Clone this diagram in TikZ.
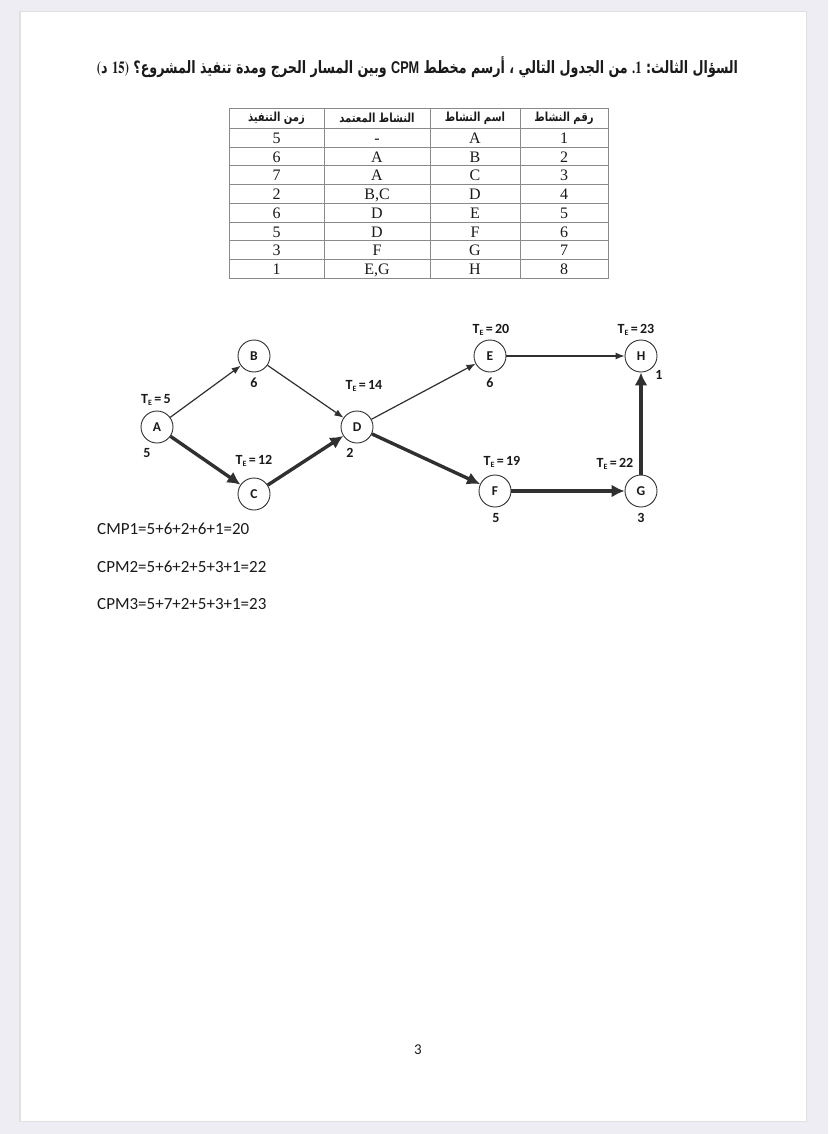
\documentclass[tikz,border=0pt]{standalone}
\usepackage{fontspec}
\usepackage{graphicx}
\usetikzlibrary{arrows.meta}
\setmainfont{Liberation Serif}
\newfontfamily\arabicfont[Script=Arabic]{DejaVu Sans}
\newfontfamily\calib{Carlito}
\newfontfamily\arialf{Liberation Sans}
\TeXXeTstate=1
\definecolor{bgc}{HTML}{EEEDF3}
\definecolor{linec}{HTML}{303030}
\definecolor{txt}{HTML}{1A1A1A}
\definecolor{gridc}{HTML}{8A8A8A}
\newcommand{\TE}{T\raisebox{-1.8pt}{\fontsize{8}{8}\selectfont E}}
\newcommand{\tfb}{\usefont{OT1}{ptm}{b}{n}}
\newcommand{\hd}[1]{\scalebox{0.8}[1]{\arabicfont\bfseries\fontsize{12.5}{13}\selectfont\beginR #1\endR}}
\tikzset{
  act/.style={circle, draw=linec, line width=0.9pt, minimum size=32pt, inner sep=0pt, fill=white, text=txt, font=\calib\bfseries\fontsize{13.5}{13.5}\selectfont},
  lbl/.style={inner sep=0pt, text=txt, font=\calib\bfseries\fontsize{14}{14}\selectfont},
  thinarr/.style={draw=linec, line width=1.2pt, -{Latex[length=9pt,width=7pt]}},
  critarr/.style={draw=linec, line width=3.4pt, -{Latex[length=13pt,width=13pt]}},
  cell/.style={anchor=base, inner sep=0pt, text=txt, font=\fontsize{16}{16}\selectfont},
  head/.style={inner sep=0pt, text=txt},
  calc/.style={anchor=west, inner sep=0pt, text=txt, font=\calib\fontsize{17}{17}\selectfont},
}
\begin{document}
\begin{tikzpicture}[x=1pt,y=-1pt]
% page
\fill[bgc] (0,0) rectangle (828,1134);
\useasboundingbox (0,0) rectangle (828,1134);
\fill[black!12] (19,11) rectangle (807,1122);
\fill[white] (21,12.5) rectangle (806,1120.5);

% title (pieces laid out in visual order, left to right)
\node[inner sep=0pt, text=txt] (title) at (417.5,67) {\resizebox{641pt}{\height}{\arabicfont\bfseries\fontsize{17}{19}\selectfont {\tfb(}د {\tfb 15)} \beginR وبين المسار الحرج ومدة تنفيذ المشروع؟\endR{} {\arialf\bfseries CPM} \beginR من الجدول التالي ، أرسم مخطط\endR{} {\tfb .1} \beginR السؤال الثالث:\endR}};

% table grid
\draw[gridc, line width=1pt] (229,108.3) rectangle (608,278.3);
\foreach \x in {324,430,520} \draw[gridc, line width=1pt] (\x,108.3) -- (\x,278.3);
\foreach \y in {128.3,147.05,165.8,184.55,203.3,222.05,240.8,259.55} \draw[gridc, line width=1pt] (229,\y) -- (608,\y);

% headers
\node[head] (h1) at (564,118.3) {\hd{رقم النشاط}};
\node[head] (h2) at (475,118.3) {\hd{اسم النشاط}};
\node[head] (h3) at (377,118.3) {\hd{النشاط المعتمد}};
\node[head] (h4) at (276.5,118.3) {\hd{زمن التنفيذ}};

% rows
\foreach \n/\nm/\dep/\dur [count=\i from 0] in {1/A/-/5, 2/B/A/6, 3/C/A/7, 4/D/{B,C}/2, 5/E/D/6, 6/F/D/5, 7/G/F/3, 8/H/{E,G}/1}{
  \pgfmathsetmacro{\yy}{137.675+18.75*\i+5.6}
  \node[cell] (n\i) at (564,\yy) {\n};
  \node[cell] (m\i) at (475,\yy) {\nm};
  \node[cell] (d\i) at (377,\yy) {\dep};
  \node[cell] (t\i) at (276.5,\yy) {\dur};
}

% network nodes
\node[act] (A) at (157,427) {A};
\node[act] (B) at (254,356) {B};
\node[act] (C) at (254,494) {C};
\node[act] (D) at (357,427) {D};
\node[act] (E) at (490,356) {E};
\node[act] (H) at (641,356) {H};
\node[act] (F) at (495,491) {F};
\node[act] (G) at (641,491) {G};

% connectors
\draw[thinarr] (A) -- (B);
\draw[thinarr] (B) -- (D);
\draw[thinarr] (D) -- (E);
\draw[thinarr] (E) -- (H);
\draw[critarr] (A) -- (C);
\draw[critarr] (C) -- (D);
\draw[critarr] (D) -- (F);
\draw[critarr] (F) -- (G);
\draw[critarr] (G) -- (H);

% labels
\node[lbl] (teA) at (156,400) {\TE\,=\,5};
\node[lbl] (dA) at (147,453) {5};
\node[lbl] (dB) at (254,383) {6};
\node[lbl] (teD) at (364,386) {\TE\,=\,14};
\node[lbl] (dD) at (350,453) {2};
\node[lbl] (teC) at (254,461) {\TE\,=\,12};
\node[lbl] (teE) at (491,330) {\TE\,=\,20};
\node[lbl] (dE) at (490,383) {6};
\node[lbl] (teH) at (636,330) {\TE\,=\,23};
\node[lbl] (dH) at (659,375) {1};
\node[lbl] (teF) at (502,462) {\TE\,=\,19};
\node[lbl] (teG) at (615,464) {\TE\,=\,22};
\node[lbl] (dF) at (496,518) {5};
\node[lbl] (dG) at (641,518) {3};

% paths
\node[calc] (p1) at (97,529) {CMP1=5+6+2+6+1=20};
\node[calc] (p2) at (97,567) {CPM2=5+6+2+5+3+1=22};
\node[calc] (p3) at (97,604) {CPM3=5+7+2+5+3+1=23};

% page number
\node[inner sep=0pt, text=txt, font=\calib\fontsize{15}{15}\selectfont] (pg) at (418,1050) {3};
\end{tikzpicture}
\end{document}
